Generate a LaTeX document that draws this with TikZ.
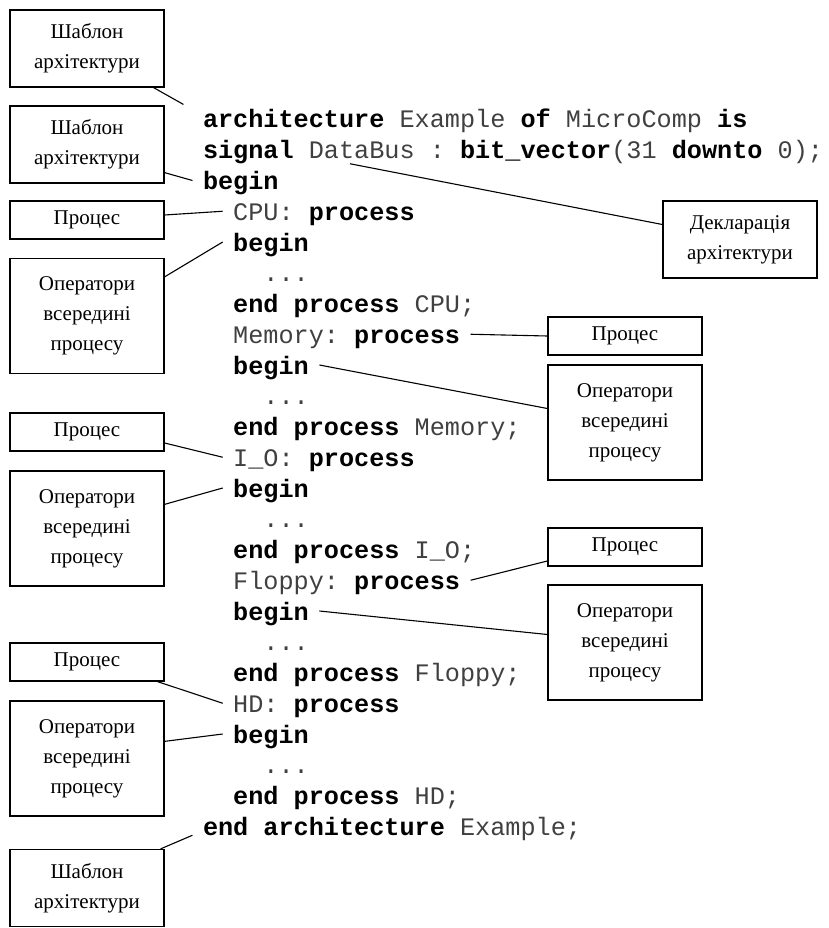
\documentclass[tikz,border=0pt]{standalone}
\usepackage{fontspec}
\setmainfont{Liberation Serif}
\newfontfamily\codefont{Liberation Mono}
\usetikzlibrary{calc}
\frenchspacing

\newcommand{\kw}[1]{\textbf{\color{black}#1}}

\begin{document}
\begin{tikzpicture}[x=1pt,y=-1pt,line width=1.1pt,
    lbl/.style={draw,line width=1.3pt,minimum width=154pt,inner sep=0pt,align=center,
      font=\fontsize{21}{30}\selectfont},
    lblone/.style={lbl,minimum height=38pt},
    lbltwo/.style={lbl,minimum height=77pt},
    lblthree/.style={lbl,minimum height=115pt},
    code/.style={anchor=text,inner xsep=10pt,inner ysep=0pt,text height=18pt,text depth=0pt,
      text=black!75,font=\codefont\fontsize{25.2}{30}\selectfont}]
				\useasboundingbox (0,0) rectangle (829,928);
				% code lines
				\node[code] (arch) at (203,128) {\kw{architecture} Example \kw{of} MicroComp \kw{is}};
				\node[code] (sig) at (203,158.75) {\kw{signal} DataBus : \kw{bit\_vector}(31 \kw{downto} 0);};
				\node[code] (beg) at (203,189.5) {\kw{begin}};
				\node[code] (cpu) at (233.24,220.25) {CPU: \kw{process}};
				\node[code] (cpubeg) at (233.24,251) {\kw{begin}};
				\node[code] (cpudots) at (263.48,281.75) {...};
				\node[code] (cpuend) at (233.24,312.5) {\kw{end process} CPU;};
				\node[code] (mem) at (233.24,343.25) {Memory: \kw{process}};
				\node[code] (membeg) at (233.24,374) {\kw{begin}};
				\node[code] (memdots) at (263.48,404.75) {...};
				\node[code] (memend) at (233.24,435.5) {\kw{end process} Memory;};
				\node[code] (io) at (233.24,466.25) {I\_O: \kw{process}};
				\node[code] (iobeg) at (233.24,497) {\kw{begin}};
				\node[code] (iodots) at (263.48,527.75) {...};
				\node[code] (ioend) at (233.24,558.5) {\kw{end process} I\_O;};
				\node[code] (flp) at (233.24,589.25) {Floppy: \kw{process}};
				\node[code] (flpbeg) at (233.24,620) {\kw{begin}};
				\node[code] (flpdots) at (263.48,650.75) {...};
				\node[code] (flpend) at (233.24,681.5) {\kw{end process} Floppy;};
				\node[code] (hd) at (233.24,712.25) {HD: \kw{process}};
				\node[code] (hdbeg) at (233.24,743) {\kw{begin}};
				\node[code] (hddots) at (263.48,773.75) {...};
				\node[code] (hdend) at (233.24,804.5) {\kw{end process} HD;};
				\node[code] (endarch) at (203,835.25) {\kw{end architecture} Example;};
				% labels on the left
				\node[lbltwo] (tpl1) at (87,48.5) {Шаблон\\архітектури};
				\node[lbltwo] (tpl2) at (87,144.5) {Шаблон\\архітектури};
				\node[lblone] (proc1) at (87,220) {Процес};
				\node[lblthree] (ops1) at (87,316) {Оператори\\всередині\\процесу};
				\node[lblone] (proc2) at (87,432) {Процес};
				\node[lblthree] (ops2) at (87,528.5) {Оператори\\всередині\\процесу};
				\node[lblone] (proc3) at (87,662) {Процес};
				\node[lblthree] (ops3) at (87,758.5) {Оператори\\всередині\\процесу};
				\node[lbltwo] (tpl3) at (87,888) {Шаблон\\архітектури};
				% labels on the right
				\node[lbltwo] (decl) at (740,239.5) {Декларація\\архітектури};
				\node[lblone] (procR1) at (625,336) {Процес};
				\node[lblthree] (opsR1) at (625,422.5) {Оператори\\всередині\\процесу};
				\node[lblone] (procR2) at (625,547) {Процес};
				\node[lblthree] (opsR2) at (625,642.5) {Оператори\\всередині\\процесу};
				% leader lines
				\coordinate (bus) at ($(sig.text)+(147,5)$);
				\draw ($(tpl1.south east)+(-11,0)$) -- ($(arch.north west)+(-9,-5)$);
				\draw ($(tpl2.south east)+(0,-11)$) -- (beg.west);
				\draw ($(proc1.east)+(0,-5)$) -- (cpu.west);
				\draw ($(ops1.north east)+(0,19)$) -- (cpubeg.west);
				\draw (bus) -- ($(decl.west)+(0,-15)$);
				\draw (mem.east) -- (procR1.west);
				\draw (membeg.east) -- ($(opsR1.west)+(0,-14)$);
				\draw ($(proc2.east)+(0,11)$) -- (io.west);
				\draw ($(ops2.north east)+(0,34)$) -- (iobeg.west);
				\draw (flp.east) -- ($(procR2.west)+(0,14)$);
				\draw (flpbeg.east) -- ($(opsR2.west)+(0,-8)$);
				\draw ($(proc3.south east)+(-7,0)$) -- (hd.west);
				\draw ($(ops3.north east)+(0,41)$) -- (hdbeg.west);
				\draw ($(tpl3.north east)+(-4,0)$) -- ($(endarch.west)+(0,9)$);
\end{tikzpicture}
\end{document}
